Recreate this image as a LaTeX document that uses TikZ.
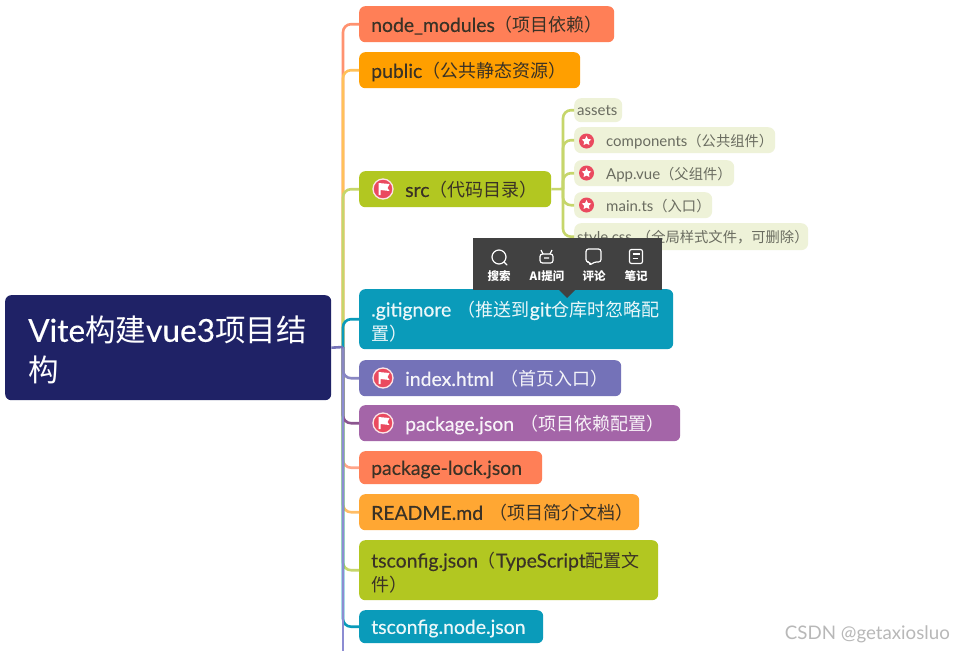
\documentclass[tikz,border=0pt]{standalone}
\usepackage{fontspec}
\setmainfont{Lato}
\newfontfamily\med{Lato}[FakeBold=0.35]
\newfontfamily\cjk{Noto Sans CJK SC}
\usetikzlibrary{shapes.geometric}
\definecolor{cSalmon}{HTML}{FF7F57}
\definecolor{cOrange}{HTML}{FF9F00}
\definecolor{cAmber}{HTML}{FFA733}
\definecolor{cGreen}{HTML}{B2C721}
\definecolor{cTeal}{HTML}{0A9BBA}
\definecolor{cBlue}{HTML}{7472B8}
\definecolor{cPurple}{HTML}{A465A8}
\definecolor{cNavy}{HTML}{1F2266}
\definecolor{cSub}{HTML}{EEF2D8}
\definecolor{cSubText}{HTML}{6A6C60}
\definecolor{cDark}{HTML}{3A3226}
\definecolor{cRed}{HTML}{EA4A5F}
\definecolor{cPop}{HTML}{414141}
\definecolor{cLink}{HTML}{C6D66B}
\definecolor{cTrunk}{HTML}{8C8CD2}
\newcommand{\cjksize}{18}
\newcommand{\cn}[1]{{\cjk\fontsize{\cjksize}{20}\selectfont #1}}
\newcommand{\gap}{\hspace*{34pt}}
\tikzset{
  x=1pt,y=-1pt,
  branch/.style n args={4}{draw=none,fill=#3,rounded corners=6pt,anchor=north west,
    minimum width=#1,minimum height=#2,text width=#1-24pt,inner xsep=12pt,inner ysep=0pt,
    align=left,text=#4,font=\med\fontsize{19.4}{24}\selectfont,
    execute at begin node={\renewcommand{\cjksize}{18}},
    execute at end node={\vspace*{-5pt}}},
  leaf/.style n args={2}{draw=none,fill=cSub,rounded corners=7pt,anchor=north west,
    minimum width=#1,minimum height=#2,text width=#1-6pt,inner xsep=3pt,inner ysep=0pt,
    align=left,text=cSubText,font=\fontsize{15}{18}\selectfont,
    execute at begin node={\renewcommand{\cjksize}{14.3}},
    execute at end node={\vspace*{-4pt}}},
  root/.style={draw=none,fill=cNavy,rounded corners=6pt,anchor=north west,
    minimum width=326pt,minimum height=105pt,text width=296pt,inner xsep=15pt,inner ysep=0pt,
    align=left,text=white,font=\med\fontsize{31.6}{40}\selectfont,
    execute at begin node={\renewcommand{\cjksize}{30.5}},
    execute at end node={\vspace*{-5pt}}},
  conn/.style={line width=2.6pt,rounded corners=8pt},
  flagdisc/.style={circle,fill=cRed,draw=white!85!cRed,line width=1.3pt,minimum size=20pt,inner sep=0pt},
  stardisc/.style={circle,fill=cRed,minimum size=15pt,inner sep=0pt},
  whitestar/.style={star,star points=5,star point ratio=2,fill=white,minimum size=10pt,inner sep=0pt},
  poplabel/.style={text=white,font=\cjk\bfseries\fontsize{11.5}{13}\selectfont,inner sep=0pt},
  popicon/.style={draw=white,line width=1.2pt,line join=round}
}
\newcommand{\flagglyph}[2]{\fill[white] (#1-5,#2-6) -- (#1+6,#2-5) -- (#1+4,#2-1) -- (#1+6,#2+2) -- (#1-3,#2+1) -- (#1-3,#2+6) -- (#1-5,#2+6) -- cycle;}
\begin{document}
\begin{tikzpicture}
\useasboundingbox (0,0) rectangle (953,651);
\fill[white] (0,0) rectangle (953,651);

\node[root] (rootn) at (5,295) {\mbox{\hspace*{8pt}Vite\cn{构建}vue3\cn{项目结}}\\\mbox{\hspace*{8pt}\cn{构}}};
\coordinate (trunk) at (343,347);
\coordinate (trunkend) at (343,651);
\coordinate (subtrunk) at (563,189);

\node[branch={255pt}{36pt}{cSalmon}{cDark}] (nm) at (359,6) {\mbox{node\_modules\cn{（项目依赖）}}};
\node[branch={221pt}{36pt}{cOrange}{cDark}] (pub) at (359,52) {\mbox{public\cn{（公共静态资源）}}};
\node[branch={192pt}{36pt}{cGreen}{cDark}] (src) at (359,171) {\mbox{\gap src\cn{（代码目录）}}};
\node[branch={314pt}{60pt}{cTeal}{white!92!cTeal}] (git) at (359,289) {\mbox{.gitignore \cn{（推送到}git\cn{仓库时忽略配}}\\\mbox{\cn{置）}}};
\node[branch={262pt}{36pt}{cBlue}{white!92!cBlue}] (idx) at (359,360) {\mbox{\gap index.html \cn{（首页入口）}}};
\node[branch={321pt}{36pt}{cPurple}{white!92!cPurple}] (pkg) at (359,405) {\mbox{\gap package.json \cn{（项目依赖配置）}}};
\node[branch={183pt}{33pt}{cSalmon}{cDark}] (lock) at (359,451) {\mbox{package-lock.json}};
\node[branch={280pt}{36pt}{cAmber}{cDark}] (readme) at (359,494) {\mbox{README.md \cn{（项目简介文档）}}};
\node[branch={299pt}{60pt}{cGreen}{cDark}] (ts) at (359,540) {\mbox{tsconfig.json\cn{（}TypeScript\cn{配置文}}\\\mbox{\cn{件）}}};
\node[branch={184pt}{33pt}{cTeal}{white!92!cTeal}] (tsn) at (359,610) {\mbox{tsconfig.node.json}};

\node[leaf={48pt}{24pt}] (assets) at (574,98) {\mbox{assets}};
\node[leaf={201pt}{26pt}] (comp) at (574,127) {\mbox{\hspace*{29pt}components\cn{（公共组件）}}};
\node[leaf={160pt}{26pt}] (app) at (574,160) {\mbox{\hspace*{29pt}App.vue\cn{（父组件）}}};
\node[leaf={138pt}{26pt}] (mainn) at (574,192) {\mbox{\hspace*{29pt}main.ts\cn{（入口）}}};
\node[leaf={234pt}{27pt}] (style) at (574,223) {\mbox{style.css \cn{（全局样式文件，可删除）}}};

\draw[conn,cSalmon!85!white] (trunk) |- (nm.west);
\draw[conn,cOrange!65!white] (trunk) |- (pub.west);
\draw[conn,cLink] (trunk) |- (src.west);
\draw[conn,cSalmon!70!white] (trunk) |- (lock.west);
\draw[conn,cAmber!75!white] (trunk) |- (readme.west);
\draw[conn,cLink] (trunk) |- (ts.west);
\draw[conn,cTeal] (trunk) |- (tsn.west);
\draw[conn,cPurple!85!black] (trunk) |- (pkg.west);
\draw[conn,cTrunk] (trunk) -- (trunkend);
\draw[conn,cBlue!85!white] (trunk) |- (idx.west);
\draw[conn,cTeal] (trunk) |- (git.west);
\draw[conn,cBlue] (rootn.east) -- (trunk);
\draw[conn,cLink] (subtrunk) |- (assets.west);
\draw[conn,cLink] (subtrunk) |- (comp.west);
\draw[conn,cLink] (subtrunk) |- (app.west);
\draw[conn,cLink] (subtrunk) |- (mainn.west);
\draw[conn,cLink] (subtrunk) |- (style.west);
\draw[conn,cLink] (src.east) -- (subtrunk);

\node[flagdisc] (fsrc) at (383,189) {};
\flagglyph{383.5}{189}
\node[flagdisc] (fidx) at (383,378) {};
\flagglyph{383.5}{378}
\node[flagdisc] (fpkg) at (383,423) {};
\flagglyph{383.5}{423}
\node[stardisc] (s1) at (586.5,141) {};
\node[whitestar] (s1w) at (586.5,141) {};
\node[stardisc] (s2) at (586.5,173) {};
\node[whitestar] (s2w) at (586.5,173) {};
\node[stardisc] (s3) at (586.5,205) {};
\node[whitestar] (s3w) at (586.5,205) {};

\fill[cPop] (473,238) rectangle (662,290);
\fill[cPop] (559,290) -- (575,290) -- (567,298) -- cycle;
\draw[popicon] (499,257) circle (7pt);
\draw[popicon,line cap=round] (504,262) -- (507,265);
\draw[popicon,rounded corners=2.5pt] (540,254) rectangle (553,263);
\draw[popicon] (543,254) -- (541,250) (550,254) -- (552,250) (544,258) -- (549,258);
\draw[popicon,rounded corners=2.5pt] (586,249) -- (601,249) -- (601,262) -- (594,262) -- (590,265.5) -- (590,262) -- (586,262) -- cycle;
\draw[popicon,rounded corners=2pt] (629.5,249.5) rectangle (642.5,263.5);
\draw[popicon] (632.5,254) -- (639.5,254) (632.5,258.5) -- (637.5,258.5);
\node[poplabel] (p1) at (499,276) {搜索};
\node[poplabel] (p2) at (547,276) {AI提问};
\node[poplabel] (p3) at (594,276) {评论};
\node[poplabel] (p4) at (636,276) {笔记};

\node[anchor=east,inner sep=0pt,text=black!28,font=\fontsize{18.7}{20}\selectfont] (wm) at (950,634) {CSDN @getaxiosluo};
\end{tikzpicture}
\end{document}
